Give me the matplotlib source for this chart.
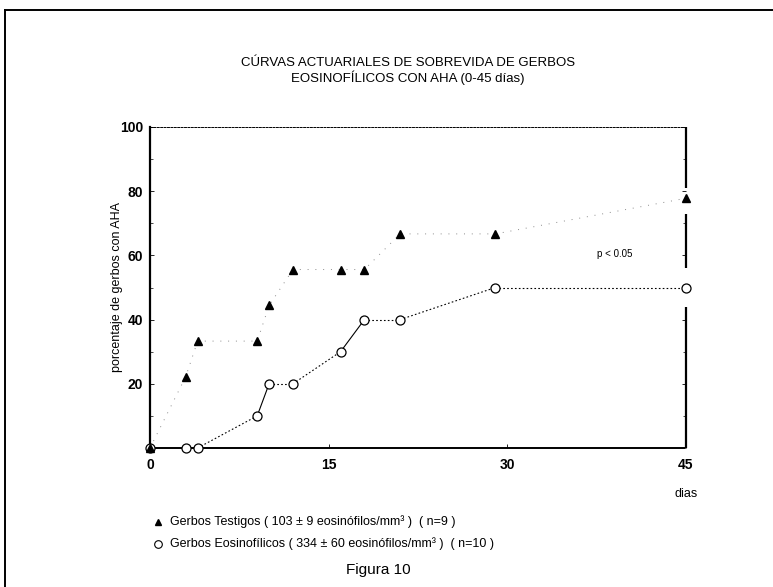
import matplotlib
matplotlib.use('Agg')
import matplotlib.pyplot as plt
from matplotlib.lines import Line2D

plt.rcParams['font.family'] = ['Liberation Sans Narrow', 'Liberation Sans', 'DejaVu Sans']

# Curvas actuariales: % acumulado de gerbos con AHA por dia
dias_testigos = [0, 3, 4, 9, 10, 12, 16, 18, 21, 29, 45]
pct_testigos = [0, 22.2, 33.3, 33.3, 44.4, 55.6, 55.6, 55.6, 66.7, 66.7, 77.8]

dias_eos = [0, 3, 4, 9, 10, 12, 16, 18, 21, 29, 45]
pct_eos = [0, 0, 0, 10, 20, 20, 30, 40, 40, 50, 50]

x_ticks = [0, 15, 30, 45]
y_ticks = [20, 40, 60, 80, 100]

titulo = 'CÚRVAS ACTUARIALES DE SOBREVIDA DE GERBOS\nEOSINOFÍLICOS CON AHA (0-45 días)'
leyenda_testigos = 'Gerbos Testigos ( 103 ± 9 eosinófilos/mm³ )  ( n=9 )'
leyenda_eos = 'Gerbos Eosinofílicos ( 334 ± 60 eosinófilos/mm³ )  ( n=10 )'

W, H = 773, 587
fig = plt.figure(figsize=(W / 100, H / 100), dpi=100)
fig.patch.set_facecolor('white')


def fx(px):
    return px / W


def fy(py):
    return 1 - py / H


ax = fig.add_axes([fx(150), fy(448), fx(686) - fx(150), fy(127) - fy(448)])
ax.set_xlim(0, 45)
ax.set_ylim(0, 100)

# spines: solid left, dashed bottom, sparse top, broken right
ax.spines['left'].set_linewidth(1.6)
ax.spines['bottom'].set_linewidth(1.4)
ax.spines['bottom'].set_linestyle((0, (3, 1)))
ax.spines['top'].set_linewidth(0.7)
ax.spines['top'].set_linestyle((0, (2, 1.5)))
ax.spines['right'].set_visible(False)
for y0, y1 in [(0, 44), (56, 73), (81, 100)]:
    ax.plot([45, 45], [y0, y1], color='black', lw=1.6, solid_capstyle='butt',
            clip_on=False, zorder=2)

ax.set_xticks(x_ticks)
ax.set_yticks(y_ticks)
ax.set_yticks(range(10, 100, 20), minor=True)
ax.tick_params(axis='both', which='major', direction='in', length=3, width=0.6,
               labelsize=10, right=True)
ax.tick_params(axis='y', which='minor', direction='in', length=2, width=0.5,
               right=True)
ax.tick_params(axis='x', pad=7)
ax.tick_params(axis='y', pad=5)
for lab in ax.get_xticklabels() + ax.get_yticklabels():
    lab.set_fontweight('bold')

ax.set_ylabel('porcentaje de gerbos con AHA', fontsize=9)
ax.yaxis.set_label_coords(-0.05, 0.5)

# testigos: triangulos con union punteada muy tenue
ax.plot(dias_testigos, pct_testigos, color='0.55', lw=0.7,
        linestyle=(0, (1, 7)), zorder=2)
ax.plot(dias_testigos, pct_testigos, linestyle='none', marker='^',
        color='black', markersize=6, clip_on=False, zorder=4)

# eosinofilicos: circulos, tramos punteados y algunos continuos
solid_seg = [False, False, False, True, False, False, True, False, False, False]
for i in range(len(dias_eos) - 1):
    ls = '-' if solid_seg[i] else (0, (1.5, 2))
    ax.plot(dias_eos[i:i + 2], pct_eos[i:i + 2], color='black',
            lw=0.8, linestyle=ls, zorder=2)
ax.plot(dias_eos, pct_eos, linestyle='none', marker='o', markersize=6.5,
        markerfacecolor='white', markeredgecolor='black', markeredgewidth=0.9,
        clip_on=False, zorder=3)

ax.text(39, 60.4, 'p < 0.05', fontsize=7, ha='center', va='center')

# textos de la figura
fig.text(fx(408), fy(71), titulo, ha='center', va='center', fontsize=9.5,
         linespacing=1.15)
fig.text(fx(686), fy(494), 'dias', ha='center', va='center', fontsize=9)

fig.add_artist(Line2D([fx(158)], [fy(522)], marker='^', color='black',
                      markersize=5, transform=fig.transFigure))
fig.text(fx(170), fy(522), leyenda_testigos, ha='left', va='center', fontsize=9)
fig.add_artist(Line2D([fx(158)], [fy(544)], marker='o', markersize=5.5,
                      markerfacecolor='white', markeredgecolor='black',
                      markeredgewidth=0.8, transform=fig.transFigure))
fig.text(fx(170), fy(544), leyenda_eos, ha='left', va='center', fontsize=9)

fig.text(fx(378), fy(570), 'Figura 10', ha='center', va='center', fontsize=11)

# marco exterior
fig.add_artist(Line2D([fx(5), 1], [fy(10), fy(10)], color='black', lw=1.4,
                      transform=fig.transFigure))
fig.add_artist(Line2D([fx(5), fx(5)], [fy(10), 0], color='black', lw=1.4,
                      transform=fig.transFigure))

fig.savefig('out.png', dpi=100)
